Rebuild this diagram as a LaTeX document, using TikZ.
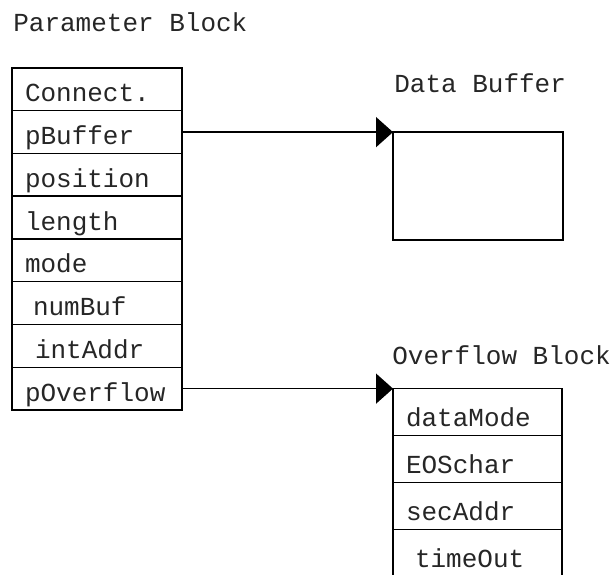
\documentclass[tikz,border=0pt]{standalone}
\usepackage{fontspec}
\setmainfont{Liberation Mono}
\usetikzlibrary{arrows.meta}

\begin{document}
\begin{tikzpicture}[x=1pt, y=-1pt, >={Triangle[length=17pt, width=30pt]}]
				\tikzstyle{every node}=[font=\fontsize{26}{30}\selectfont, text=black!85, outer sep=0pt]
				\tikzstyle{cell}=[draw, line width=1.5pt, minimum height=42.75pt, text width=144pt, text height=30pt, text depth=5pt, inner xsep=13pt, inner ysep=0pt, align=left]
				\tikzstyle{ocell}=[cell, minimum height=47pt, text width=143pt, text height=34pt]
				\clip (0, 0) rectangle (614, 575);
				% parameter block
				\node[anchor=west] (ptitle) at (10, 22) {Parameter Block};
				\node[cell] (connect) at (97, 89.375) {Connect.};
				\node[cell] (pbuffer) at (97, 132.125) {pBuffer};
				\node[cell] (position) at (97, 174.875) {position};
				\node[cell] (length) at (97, 217.625) {length};
				\node[cell] (mode) at (97, 260.375) {mode};
				\node[cell] (numbuf) at (97, 303.125) {\hspace*{8pt}numBuf};
				\node[cell] (intaddr) at (97, 345.875) {\hspace*{10pt}intAddr};
				\node[cell] (poverflow) at (97, 388.625) {pOverflow};
				% data buffer
				\node[anchor=west] (btitle) at (391, 83) {Data Buffer};
				\node[draw, line width=1.5pt, minimum width=170pt, minimum height=108pt] (buffer) at (478, 186.125) {};
				% overflow block
				\node[anchor=west] (otitle) at (389, 355) {Overflow Block};
				\node[ocell] (datamode) at (477.5, 412.125) {dataMode};
				\node[ocell] (eoschar) at (477.5, 459.125) {EOSchar};
				\node[ocell] (secaddr) at (477.5, 506.125) {secAddr};
				\node[ocell] (timeout) at (477.5, 553.125) {\hspace*{9pt}timeOut};
				\draw [->, line width=1.5pt] (pbuffer.east) -- (buffer.north west);
				\draw [->, line width=1.5pt] (poverflow.east) -- (datamode.north west);
		\end{tikzpicture}
\end{document}
